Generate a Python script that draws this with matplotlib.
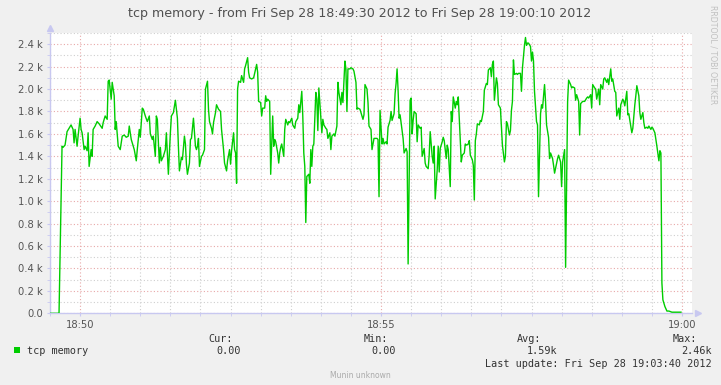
import numpy as np
import matplotlib.pyplot as plt
from matplotlib.patches import Rectangle
from matplotlib.ticker import FixedLocator, MultipleLocator

# seconds after 18:49:30 in six slices
t1 = [0, 9, 12, 13, 15, 17, 19, 21, 23, 24,
      25, 27, 28, 30, 31, 32, 34, 35, 37, 38,
      39, 41, 42, 43, 45, 47, 49, 52, 53, 55,
      57, 58, 59, 61, 62, 64, 65, 66, 68, 70,
      72, 74, 76, 78, 79, 81, 82, 84, 86, 87,
      89, 90, 92, 93, 95, 97, 99, 100, 102, 103,
      105, 106, 107, 109, 110]
v1 = [0, 0, 1.49, 1.48, 1.50, 1.62, 1.65, 1.68, 1.64, 1.52,
      1.64, 1.49, 1.58, 1.74, 1.64, 1.61, 1.46, 1.49, 1.45, 1.61,
      1.31, 1.46, 1.40, 1.64, 1.67, 1.71, 1.69, 1.65, 1.70, 1.76,
      1.73, 2.07, 2.08, 1.91, 2.06, 1.94, 1.64, 1.71, 1.49, 1.46,
      1.58, 1.59, 1.57, 1.58, 1.67, 1.55, 1.52, 1.46, 1.36, 1.46,
      1.64, 1.57, 1.83, 1.82, 1.76, 1.71, 1.76, 1.60, 1.55, 1.58,
      1.40, 1.76, 1.73, 1.34, 1.48]

t2 = [111, 113, 115, 116, 118, 120, 121, 123, 125, 126,
      127, 128, 129, 131, 132, 134, 135, 136, 137, 139,
      140, 141, 143, 145, 146, 147, 148, 149, 151, 152,
      154, 155, 157, 158, 159, 161, 162, 163, 165, 166,
      168, 170, 171, 173, 174, 176, 177, 179, 180, 181,
      183, 184, 185, 186, 187, 188, 190, 191, 193, 194,
      195, 197, 198, 199, 201, 203, 205, 206, 207, 208,
      210, 211, 212, 214, 215, 216, 217]
v2 = [1.36, 1.40, 1.46, 1.61, 1.24, 1.61, 1.76, 1.79, 1.90, 1.82,
      1.74, 1.49, 1.27, 1.39, 1.37, 1.58, 1.51, 1.33, 1.24, 1.34,
      1.55, 1.56, 1.74, 1.49, 1.46, 1.49, 1.56, 1.31, 1.40, 1.41,
      1.46, 2.00, 2.07, 1.82, 1.71, 1.65, 1.60, 1.70, 1.79, 1.86,
      1.82, 1.80, 1.64, 1.46, 1.34, 1.27, 1.36, 1.46, 1.33, 1.45,
      1.61, 1.46, 1.43, 1.16, 2.00, 2.07, 2.06, 2.12, 2.06, 2.18,
      2.21, 2.28, 2.15, 2.10, 2.09, 2.10, 2.18, 2.22, 2.15, 1.89,
      1.88, 1.76, 1.83, 1.83, 1.94, 1.89, 1.91]

t3 = [219, 220, 222, 223, 224, 225, 227, 228, 229, 230,
      231, 233, 234, 235, 237, 238, 239, 241, 242, 244,
      245, 247, 248, 249, 251, 252, 253, 254, 255, 256,
      258, 259, 260, 261, 262, 263, 265, 266, 267, 268,
      269, 271, 272, 273, 275, 276, 277, 279, 280, 281,
      283, 284, 286, 287, 288, 290, 291, 292, 294, 295,
      296, 297, 299, 300, 302, 303, 305, 306, 307, 309,
      310, 312, 313, 314, 316, 317, 318, 320, 321, 323,
      324, 326]
v3 = [1.89, 1.24, 1.76, 1.49, 1.55, 1.53, 1.43, 1.34, 1.43, 1.48,
      1.51, 1.40, 1.64, 1.73, 1.68, 1.71, 1.70, 1.74, 1.68, 1.65,
      1.71, 1.74, 1.86, 1.79, 1.98, 1.76, 1.43, 1.31, 0.81, 1.22,
      1.24, 1.16, 1.46, 1.31, 1.49, 1.51, 1.97, 1.91, 1.63, 2.01,
      1.88, 1.61, 1.73, 1.68, 1.65, 1.64, 1.56, 1.61, 1.46, 1.58,
      1.60, 1.58, 1.67, 2.06, 1.97, 1.86, 1.97, 1.88, 2.25, 2.18,
      1.80, 2.18, 2.18, 2.19, 2.18, 2.16, 2.06, 1.82, 1.83, 1.82,
      1.79, 1.73, 1.77, 2.04, 2.00, 1.88, 1.67, 1.64, 1.46, 1.56,
      1.56, 1.56]

t4 = [327, 328, 329, 331, 332, 333, 335, 336, 337, 339,
      340, 341, 343, 344, 345, 346, 347, 348, 349, 351,
      352, 353, 355, 356, 357, 359, 360, 361, 362, 363,
      365, 366, 367, 369, 370, 371, 373, 374, 375, 377,
      378, 379, 381, 382, 383, 384, 386, 387, 388, 389,
      391, 392, 393, 395, 396, 397, 399, 400, 401, 402,
      404, 405, 406, 407, 409, 410, 411, 413, 414, 415,
      417, 418, 419, 421, 422, 423, 424, 425, 426, 428,
      429, 430, 432, 433, 434]
v4 = [1.55, 1.04, 1.81, 1.51, 1.56, 1.51, 1.53, 1.51, 1.66, 1.72,
      1.80, 1.72, 1.78, 1.96, 2.05, 2.18, 1.99, 1.74, 1.77, 1.63,
      1.56, 1.43, 1.47, 1.44, 0.44, 1.90, 1.92, 1.60, 1.72, 1.80,
      1.78, 1.53, 1.68, 1.65, 1.66, 1.40, 1.47, 1.34, 1.31, 1.29,
      1.41, 1.62, 1.40, 1.34, 1.49, 1.02, 1.28, 1.49, 1.26, 1.47,
      1.53, 1.57, 1.54, 1.38, 1.50, 1.46, 1.13, 1.80, 1.71, 1.93,
      1.83, 1.89, 1.86, 1.93, 1.54, 1.35, 1.41, 1.43, 1.51, 1.50,
      1.51, 1.54, 1.41, 1.37, 1.32, 1.01, 1.54, 1.60, 1.69, 1.68,
      1.72, 1.71, 1.80, 1.99, 2.02]

t5 = [435, 436, 437, 439, 440, 441, 442, 443, 445, 446,
      447, 449, 450, 451, 453, 454, 455, 456, 458, 459,
      460, 461, 462, 463, 465, 466, 467, 469, 470, 471,
      473, 474, 475, 476, 477, 479, 480, 481, 482, 483,
      485, 486, 487, 489, 490, 491, 493, 494, 495, 497,
      498, 499, 501, 502, 503, 505, 506, 507, 509, 510,
      511, 513, 514, 515, 516, 517, 519, 520, 521, 523,
      524, 525, 527, 528, 529, 531, 532, 533, 535, 536,
      537, 539, 540, 541]
v5 = [2.05, 2.04, 2.17, 2.19, 2.11, 2.22, 2.25, 1.90, 2.10, 2.05,
      1.86, 1.83, 1.66, 1.50, 1.35, 1.40, 1.71, 1.69, 1.59, 1.63,
      1.81, 1.89, 2.26, 2.13, 2.14, 2.13, 2.14, 2.14, 1.98, 2.19,
      2.39, 2.46, 2.39, 2.41, 2.41, 2.38, 2.25, 2.33, 2.25, 1.98,
      1.71, 1.68, 1.04, 1.78, 1.86, 1.83, 2.04, 1.89, 1.68, 1.57,
      1.38, 1.43, 1.38, 1.32, 1.25, 1.34, 1.38, 1.41, 1.35, 1.13,
      1.35, 1.46, 0.41, 1.19, 1.89, 2.08, 2.04, 2.01, 2.02, 2.01,
      1.90, 1.95, 1.89, 1.59, 1.87, 1.89, 1.89, 1.89, 1.92, 1.93,
      1.92, 1.95, 1.83, 2.04]

t6 = [543, 544, 545, 547, 548, 549, 551, 552, 553, 555,
      556, 557, 559, 560, 561, 563, 564, 565, 567, 568,
      569, 571, 572, 573, 575, 576, 577, 579, 580, 581,
      583, 584, 585, 587, 588, 589, 591, 592, 593, 595,
      596, 597, 599, 600, 601, 603, 604, 605, 607, 608,
      609, 610, 611, 613, 615, 617, 620, 625, 629]
v6 = [2.01, 2.00, 1.91, 2.00, 1.86, 2.04, 2.00, 2.09, 2.10, 2.06,
      2.09, 2.04, 2.18, 2.07, 2.09, 1.98, 1.97, 1.76, 1.83, 1.73,
      1.86, 1.91, 1.89, 1.85, 1.98, 1.77, 1.78, 1.67, 1.61, 1.65,
      1.86, 1.94, 2.03, 1.94, 1.79, 1.73, 1.79, 1.70, 1.65, 1.66,
      1.65, 1.67, 1.64, 1.66, 1.65, 1.61, 1.55, 1.49, 1.36, 1.45,
      1.43, 0.27, 0.12, 0.06, 0.02, 0.02, 0.01, 0.01, 0.01]

seconds = np.concatenate([t1, t2, t3, t4, t5, t6])
tcp_k = np.concatenate([v1, v2, v3, v4, v5, v6])

x_ticks = [30, 330, 630]
x_labels = ["18:50", "18:55", "19:00"]
y_ticks = [0.0, 0.2, 0.4, 0.6, 0.8, 1.0, 1.2, 1.4, 1.6, 1.8, 2.0, 2.2, 2.4]
y_labels = ["0.0"] + [f"{v:.1f} k" for v in y_ticks[1:]]

W, H = 721, 385
bg = "#f0f0f0"
axis_col = "#c8c8f0"
txt = "#555555"

fig = plt.figure(figsize=(W / 100, H / 100), dpi=100, facecolor=bg)
ax = fig.add_axes([50 / W, (H - 313.3) / H, 642 / W, 280.3 / H])
ax.set_facecolor("white")
ax.set_xlim(0, 640)
ax.set_ylim(0, 2.5)

ax.xaxis.set_major_locator(FixedLocator(x_ticks))
ax.xaxis.set_minor_locator(MultipleLocator(30))
ax.set_xticklabels(x_labels)
ax.yaxis.set_major_locator(FixedLocator(y_ticks))
ax.yaxis.set_minor_locator(MultipleLocator(0.1))
ax.set_yticklabels(y_labels)

ax.grid(which="minor", color="#cfcfcf", linestyle=(0, (1, 2)), linewidth=0.8)
ax.grid(which="major", color="#e8a8a8", linestyle=(0, (1, 2)), linewidth=0.8)
ax.set_axisbelow(True)

for s in ("top", "right"):
    ax.spines[s].set_visible(False)
for s in ("left", "bottom"):
    ax.spines[s].set_color(axis_col)
    ax.spines[s].set_linewidth(1.0)

ax.tick_params(which="both", length=2, color=axis_col, labelcolor=txt,
               labelsize=7.2, pad=3)

ax.plot(seconds, tcp_k, color="#00cc00", linewidth=1.0, zorder=3)

# axis arrows
ax.plot([1.0 + 6 / 642], [0], marker=">", markersize=4, color=axis_col,
        transform=ax.transAxes, clip_on=False)
ax.plot([0], [1.0 + 5 / 280], marker="^", markersize=4, color=axis_col,
        transform=ax.transAxes, clip_on=False)


def px(x, y):
    return x / W, 1 - y / H


fig.text(*px(360, 14), "tcp memory - from Fri Sep 28 18:49:30 2012 to Fri Sep 28 19:00:10 2012",
         ha="center", va="center", fontsize=9.1, color="#505050")
fig.text(*px(713, 5), "RRDTOOL / TOBI OETIKER", rotation=270, ha="center", va="top",
         fontsize=5.6, color="#c0c0c0")

mono = dict(family="DejaVu Sans Mono", fontsize=7.3, color="#333333", va="center")
fig.patches.append(Rectangle(px(14, 353), 6 / W, 6 / H, transform=fig.transFigure,
                             facecolor="#00cc00", edgecolor="none"))
fig.text(*px(27, 351), "tcp memory", ha="left", **mono)
fig.text(*px(233, 339), "Cur:", ha="right", **mono)
fig.text(*px(241, 351), "0.00", ha="right", **mono)
fig.text(*px(388, 339), "Min:", ha="right", **mono)
fig.text(*px(396, 351), "0.00", ha="right", **mono)
fig.text(*px(541, 339), "Avg:", ha="right", **mono)
fig.text(*px(557, 351), "1.59k", ha="right", **mono)
fig.text(*px(697, 339), "Max:", ha="right", **mono)
fig.text(*px(712, 351), "2.46k", ha="right", **mono)
fig.text(*px(712, 364), "Last update: Fri Sep 28 19:03:40 2012", ha="right", **mono)
fig.text(*px(360, 375), "Munin unknown", ha="center", va="center",
         fontsize=5.5, color="#aaaaaa")

fig.savefig("out.png", dpi=100, facecolor=bg)
